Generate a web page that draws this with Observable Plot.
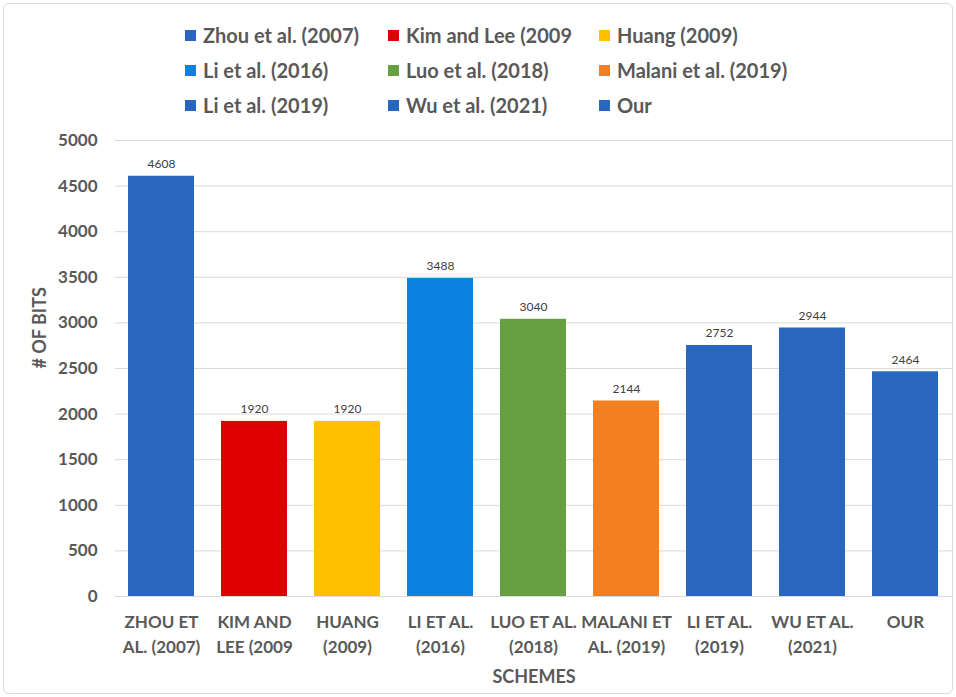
<!DOCTYPE html>
<html>
<head>
<meta charset="utf-8">
<script src="https://cdn.jsdelivr.net/npm/d3@7"></script>
<script src="https://cdn.jsdelivr.net/npm/@observablehq/plot@0.6"></script>
<style>
  html, body { margin: 0; padding: 0; background: #fff; }
  #wrap { position: relative; width: 956px; height: 697px; font-family: Lato, "Open Sans", sans-serif; }
  #frame { position: absolute; left: 3px; top: 3px; width: 948px; height: 689px; border: 1px solid #d9d9d9; border-radius: 6px; pointer-events: none; }
  #legend { position: absolute; left: 0; top: 0; width: 956px; height: 130px; }
  .li { position: absolute; display: flex; align-items: center; font-size: 20px; font-weight: bold; color: #595959; white-space: nowrap; transform: translateY(-50%); }
  .sw { width: 11px; height: 11px; margin-right: 7px; }
  #chart { position: absolute; left: 0; top: 0; }
</style>
</head>
<body>
<div id="wrap">
  <div id="chart"></div>
  <div id="legend"></div>
  <div id="frame"></div>
</div>
<script>
const schemes = ["Zhou et al. (2007)", "Kim and Lee (2009", "Huang (2009)", "Li et al. (2016)", "Luo et al. (2018)", "Malani et al. (2019)", "Li et al. (2019)", "Wu et al. (2021)", "Our"];
const tickLabels = ["ZHOU ET\nAL. (2007)", "KIM AND\nLEE (2009", "HUANG\n(2009)", "LI ET AL.\n(2016)", "LUO ET AL.\n(2018)", "MALANI ET\nAL. (2019)", "LI ET AL.\n(2019)", "WU ET AL.\n(2021)", "OUR"];
const bits = [4608, 1920, 1920, 3488, 3040, 2144, 2752, 2944, 2464];
const colors = ["#2966c0", "#e00000", "#ffc000", "#0a82e0", "#66a042", "#f47f20", "#2966c0", "#2966c0", "#2966c0"];
const yTicks = [0, 500, 1000, 1500, 2000, 2500, 3000, 3500, 4000, 4500, 5000];

const data = schemes.map((s, i) => ({scheme: s, bits: bits[i], label: tickLabels[i], color: colors[i]}));
const labelOf = new Map(schemes.map((s, i) => [s, tickLabels[i]]));

const chart = Plot.plot({
  width: 956,
  height: 697,
  marginTop: 140,
  marginBottom: 101,
  marginLeft: 115,
  marginRight: 4,
  style: {fontFamily: "Lato, 'Open Sans', sans-serif", background: "transparent"},
  x: {domain: schemes, paddingInner: 0.29, paddingOuter: 0.145, label: null},
  y: {domain: [0, 5000], label: null},
  marks: [
    Plot.gridY(yTicks, {stroke: "#d9d9d9", strokeOpacity: 1, strokeWidth: 1}),
    Plot.ruleY([0], {stroke: "#d9d9d9", strokeWidth: 1}),
    Plot.barY(data, {x: "scheme", y: "bits", fill: "color"}),
    Plot.text(data, {x: "scheme", y: "bits", text: d => String(d.bits), dy: -12, fontSize: 12, fill: "#404040"}),
    Plot.axisY({ticks: yTicks, tickSize: 0, tickPadding: 18, fontSize: 17, fontWeight: "bold", fill: "#595959", tickFormat: d3.format("d"), label: null}),
    Plot.axisX({tickSize: 0, tickPadding: 14, fontSize: 17, fontWeight: "bold", fill: "#595959", lineHeight: 1.45, tickFormat: d => labelOf.get(d), label: null}),
    Plot.text(["# OF BITS"], {frameAnchor: "left", dx: -75, rotate: -90, fontSize: 18, fontWeight: "bold", fill: "#595959"}),
    Plot.text(["SCHEMES"], {frameAnchor: "bottom", dy: 86, fontSize: 18, fontWeight: "bold", fill: "#595959"})
  ]
});
document.getElementById("chart").appendChild(chart);

const legend = document.getElementById("legend");
const colX = [185, 388, 599];
const rowY = [35, 70, 105];
schemes.forEach((s, i) => {
  const el = document.createElement("div");
  el.className = "li";
  el.style.left = colX[i % 3] + "px";
  el.style.top = rowY[Math.floor(i / 3)] + "px";
  const sw = document.createElement("span");
  sw.className = "sw";
  sw.style.background = colors[i];
  el.appendChild(sw);
  el.appendChild(document.createTextNode(s));
  legend.appendChild(el);
});
</script>
</body>
</html>
